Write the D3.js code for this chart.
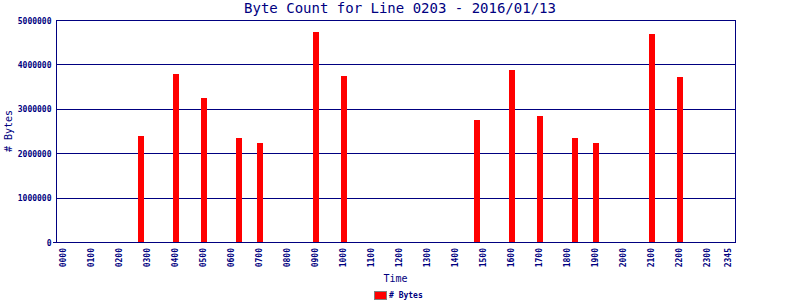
<!DOCTYPE html>
<html>
<head>
<meta charset="utf-8">
<script src="https://cdn.jsdelivr.net/npm/d3@7"></script>
<style>
  body { margin: 0; background: #fff; }
  text { font-family: "DejaVu Sans Mono", monospace; fill: #000080; }
</style>
</head>
<body>
<div id="chart"></div>
<script>
// sample times (hours, decimal) and byte counts
var times = [2.75, 4, 5, 6.25, 7, 9, 10, 14.75, 16, 17, 18.25, 19, 21, 22];
var bytes = [2390000, 3780000, 3240000, 2340000, 2230000, 4730000, 3740000,
             2750000, 3870000, 2840000, 2340000, 2230000, 4680000, 3720000];

// x tick labels
var tickHours = [0,1,2,3,4,5,6,7,8,9,10,11,12,13,14,15,16,17,18,19,20,21,22,23,23.75];
var tickLabels = ["0000","0100","0200","0300","0400","0500","0600","0700","0800","0900",
                  "1000","1100","1200","1300","1400","1500","1600","1700","1800","1900",
                  "2000","2100","2200","2300","2345"];
var yTicks = [0, 1000000, 2000000, 3000000, 4000000, 5000000];

var width = 800, height = 300;
var margin = {top: 20, right: 65, bottom: 58, left: 56};
var navy = "#000080";

var svg = d3.select("#chart").append("svg")
    .attr("width", width)
    .attr("height", height);

var plotW = width - margin.left - margin.right;
var plotH = height - margin.top - margin.bottom;

var g = svg.append("g")
    .attr("transform", "translate(" + margin.left + "," + margin.top + ")");

var x = d3.scaleLinear().domain([0, 23.75]).range([7, plotW - 7]);
var y = d3.scaleLinear().domain([0, 5000000]).range([plotH, 0]);

// grid lines
g.selectAll("line.grid")
    .data(yTicks)
    .enter()
    .append("line")
    .attr("class", "grid")
    .attr("x1", 0)
    .attr("x2", plotW)
    .attr("y1", d => Math.round(y(d)) + 0.5)
    .attr("y2", d => Math.round(y(d)) + 0.5)
    .attr("stroke", navy)
    .attr("stroke-width", 1);

// bars
g.selectAll("rect.bar")
    .data(times)
    .enter()
    .append("rect")
    .attr("class", "bar")
    .attr("x", d => Math.round(x(d)) - 2)
    .attr("width", 6)
    .attr("y", (d, i) => Math.round(y(bytes[i])))
    .attr("height", (d, i) => plotH - Math.round(y(bytes[i])))
    .attr("fill", "#ff0000");

// frame
g.append("rect")
    .attr("x", 0.5)
    .attr("y", 0.5)
    .attr("width", plotW)
    .attr("height", plotH)
    .attr("fill", "none")
    .attr("stroke", navy);

// y axis labels
var yAxis = d3.axisLeft(y).tickValues(yTicks).tickSize(0).tickPadding(5)
    .tickFormat(d3.format("d"));
var yg = g.append("g").attr("transform", "translate(0.5,0.5)").call(yAxis);
yg.select(".domain").remove();
yg.selectAll("text")
    .style("font-size", "8px")
    .style("font-weight", "bold")
    .attr("fill", navy);

// small tick at origin
g.append("line")
    .attr("x1", -3).attr("x2", 0)
    .attr("y1", plotH + 0.5).attr("y2", plotH + 0.5)
    .attr("stroke", navy);

// x axis labels
var xAxis = d3.axisBottom(x).tickValues(tickHours).tickSize(0)
    .tickFormat((d, i) => tickLabels[i]);
var xg = g.append("g").attr("transform", "translate(0," + plotH + ")").call(xAxis);
xg.select(".domain").remove();
xg.selectAll("text")
    .style("font-size", "8px")
    .style("font-weight", "bold")
    .attr("fill", navy)
    .attr("text-anchor", "end")
    .attr("dy", "0.35em")
    .attr("y", 0)
    .attr("transform", "translate(0,6) rotate(-90)");

// title
svg.append("text")
    .attr("x", width / 2)
    .attr("y", 13)
    .attr("text-anchor", "middle")
    .style("font-size", "14px")
    .text("Byte Count for Line 0203 - 2016/01/13");

// axis titles
svg.append("text")
    .attr("x", margin.left + plotW / 2)
    .attr("y", 282)
    .attr("text-anchor", "middle")
    .style("font-size", "10px")
    .text("Time");

svg.append("text")
    .attr("transform", "translate(12," + (margin.top + plotH / 2) + ") rotate(-90)")
    .attr("text-anchor", "middle")
    .style("font-size", "10px")
    .text("# Bytes");

// legend
svg.append("rect")
    .attr("x", 374.5).attr("y", 291.5)
    .attr("width", 12).attr("height", 8)
    .attr("fill", "#ff0000")
    .attr("stroke", "#808080");
svg.append("text")
    .attr("x", 389)
    .attr("y", 298)
    .style("font-size", "8px")
    .style("font-weight", "bold")
    .text("# Bytes");
</script>
</body>
</html>
